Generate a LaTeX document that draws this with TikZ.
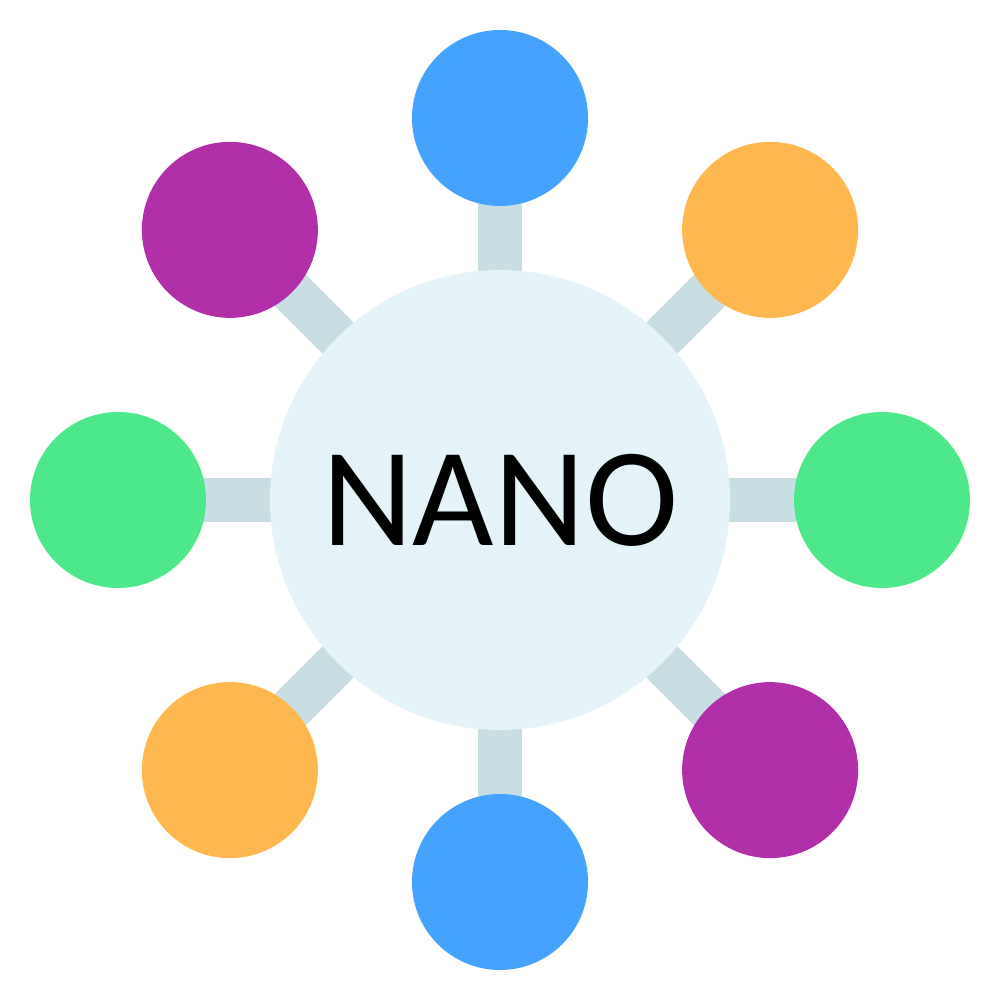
\documentclass[tikz,border=0pt]{standalone}
\usepackage{fontspec}
\setmainfont{Carlito}
\usetikzlibrary{backgrounds}
\definecolor{hubfill}{HTML}{E4F3F7}
\definecolor{linkgray}{HTML}{C9DEE3}
\definecolor{ballblue}{HTML}{45A2FF}
\definecolor{ballorange}{HTML}{FFB84F}
\definecolor{ballgreen}{HTML}{4DE88A}
\definecolor{ballpurple}{HTML}{B22FAA}

\begin{document}
\begin{tikzpicture}
\useasboundingbox (-5,-5) rectangle (5,5);
\node[circle,minimum size=4.6cm,hubfill,fill] (nano) at (0,0) {\textcolor{black}{\fontsize{40}{44}\selectfont NANO}};
\foreach \a/\c [count=\i] in {90/ballblue,45/ballorange,0/ballgreen,-45/ballpurple,-90/ballblue,-135/ballorange,180/ballgreen,135/ballpurple}
  \node[circle,minimum size=1.76cm,\c,fill] (ball\i) at (\a:3.82) {};
\begin{scope}[on background layer]
\foreach \i in {1,...,8}
  \draw[linkgray,line width=0.44cm] (nano.center) -- (ball\i.center);
\end{scope}
\end{tikzpicture}
\end{document}
